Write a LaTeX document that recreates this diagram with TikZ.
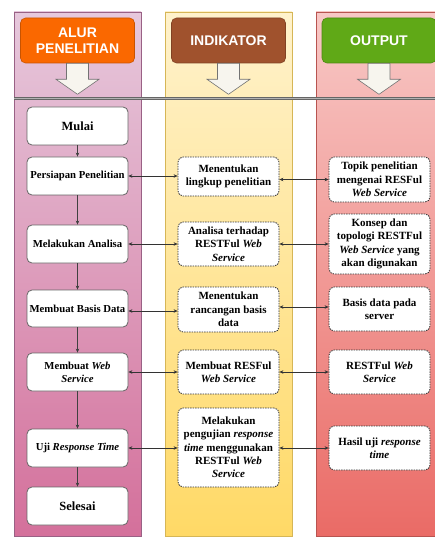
\documentclass[tikz,border=0pt]{standalone}
\usepackage{fontspec}
\setmainfont{Liberation Serif}
\newfontfamily\headfont{Liberation Sans}
\usetikzlibrary{arrows.meta,calc}

\definecolor{alurhead}{HTML}{FA6800}
\definecolor{indihead}{HTML}{A0522D}
\definecolor{outhead}{HTML}{60A917}
\definecolor{arrowfill}{HTML}{F7F5EE}
\definecolor{alurtop}{RGB}{230,200,220}
\definecolor{alurbot}{RGB}{212,112,155}
\definecolor{alurline}{RGB}{153,97,133}
\definecolor{inditop}{RGB}{255,242,204}
\definecolor{indibot}{RGB}{255,217,102}
\definecolor{indiline}{RGB}{214,182,86}
\definecolor{outtop}{RGB}{248,200,198}
\definecolor{outbot}{RGB}{234,107,102}
\definecolor{outline}{RGB}{184,84,80}

\begin{document}
\begin{tikzpicture}[x=1pt,y=-1pt,
  lanehead/.style={rounded corners=5pt, draw, line width=0.6pt, text=white,
    font=\headfont\fontsize{14}{16}\selectfont\bfseries, align=center,
    minimum width=114pt, minimum height=45pt},
  flowbox/.style={draw=black!60, fill=white, rounded corners=5pt, line width=0.8pt,
    minimum width=101pt, minimum height=38pt, align=center, inner sep=1pt,
    font=\fontsize{10.7}{13.3}\selectfont\bfseries},
  endbox/.style={flowbox, font=\fontsize{12.5}{14}\selectfont\bfseries},
  notebox/.style={flowbox, draw=black!80, dash pattern=on 1.5pt off 1pt,
    font=\fontsize{11}{13.3}\selectfont\bfseries},
  bothway/.style={{Stealth[length=4pt,width=3.5pt]}-{Stealth[length=4pt,width=3.5pt]},
    line width=0.6pt, black!80},
  flowarrow/.style={-{Stealth[length=4pt,width=3.5pt]}, line width=0.6pt, black!75},
  blockarrow/.pic={\draw[fill=arrowfill, draw=black!55, line width=0.6pt]
    (-11,0) -- (11,0) -- (11,16) -- (21.5,16) -- (0,31) -- (-21.5,16) -- (-11,16) -- cycle;}]
\useasboundingbox (0,0) rectangle (435,537);
\clip (0,0) rectangle (435,537);

% lanes
\draw[draw=alurline, line width=0.6pt, top color=alurtop, bottom color=alurbot]
  (14,12) rectangle (141,536);
\draw[draw=indiline, line width=0.6pt, top color=inditop, bottom color=indibot]
  (165,12) rectangle (292,536);
\draw[draw=outline, line width=0.6pt, top color=outtop, bottom color=outbot]
  (316,12) rectangle (442,536);

% headers
\node[lanehead, fill=alurhead, draw=alurhead!80!black] (alur) at (77.5,40.5) {ALUR\\PENELITIAN};
\node[lanehead, fill=indihead, draw=indihead!80!black] (indikator) at (228.5,40.5) {INDIKATOR};
\node[lanehead, fill=outhead, draw=outhead!80!black] (output) at (379,40.5) {OUTPUT};
\foreach \h in {alur,indikator,output}
  \pic at (\h.south) {blockarrow};

\coordinate (sepL) at (14,98.5);
\coordinate (sepR) at (440,98.5);
\draw[black!60, line width=0.7pt, double=black!30, double distance=1.6pt] (sepL) -- (sepR);

% alur penelitian
\node[endbox] (mulai) at (77.5,126) {Mulai};
\node[flowbox] (persiapan) at (77.5,176) {Persiapan Penelitian};
\node[flowbox] (analisa) at (77.5,244) {Melakukan Analisa};
\node[flowbox, minimum height=37pt] (basis) at (77.5,308.5) {Membuat Basis Data};
\node[flowbox] (webservice) at (77.5,372) {Membuat \textit{Web}\\\textit{Service}};
\node[flowbox] (uji) at (77.5,448) {Uji \textit{Response Time}};
\node[endbox] (selesai) at (77.5,506) {Selesai};

% indikator
\node[notebox, minimum height=39pt] (lingkup) at (228.5,176.5) {Menentukan\\lingkup penelitian};
\node[notebox, minimum height=44pt] (terhadap) at (228.5,244) {Analisa terhadap\\RESTFul \textit{Web}\\\textit{Service}};
\node[notebox, minimum height=45pt] (rancangan) at (228.5,309.5) {Menentukan\\rancangan basis\\data};
\node[notebox, minimum height=44pt] (resful) at (228.5,372) {Membuat RESFul\\\textit{Web Service}};
\node[notebox, minimum height=79pt] (pengujian) at (228.5,447.5) {Melakukan\\pengujian \textit{response}\\\textit{time} menggunakan\\RESTFul \textit{Web}\\\textit{Service}};

% output
\node[notebox, minimum height=45pt] (topik) at (379.5,179.5) {Topik penelitian\\mengenai RESFul\\\textit{Web Service}};
\node[notebox, minimum height=60pt] (konsep) at (379.5,244) {Konsep dan\\topologi RESTFul\\\textit{Web Service} yang\\akan digunakan};
\node[notebox, minimum height=44pt] (server) at (379.5,309) {Basis data pada\\server};
\node[notebox, minimum height=44pt] (restful) at (379.5,372) {RESTFul \textit{Web}\\\textit{Service}};
\node[notebox, minimum height=44pt] (hasil) at (379.5,448) {Hasil uji \textit{response}\\\textit{time}};

\draw[flowarrow] (mulai) -- (persiapan);
\draw[flowarrow] (persiapan) -- (analisa);
\draw[flowarrow] (analisa) -- (basis);
\draw[flowarrow] (basis) -- (webservice);
\draw[flowarrow] (webservice) -- (uji);
\draw[flowarrow] (uji) -- (selesai);

\draw[bothway] (persiapan.east) -- (persiapan -| lingkup.west);
\draw[bothway] (analisa.east) -- (analisa -| terhadap.west);
\draw[bothway] ($(basis.east)+(0,2.5)$) -- ($(basis.east -| rancangan.west)+(0,2.5)$);
\draw[bothway] (webservice.east) -- (webservice -| resful.west);
\draw[bothway] (uji.east) -- (uji -| pengujian.west);

\draw[bothway] (lingkup.east |- topik) -- (topik.west);
\draw[bothway] (terhadap.east) -- (terhadap -| konsep.west);
\draw[bothway] ($(rancangan.east)+(0,-2.5)$) -- ($(rancangan.east -| server.west)+(0,-2.5)$);
\draw[bothway] (resful.east) -- (resful -| restful.west);
\draw[bothway] (pengujian.east |- hasil) -- (hasil.west);
\end{tikzpicture}
\end{document}
